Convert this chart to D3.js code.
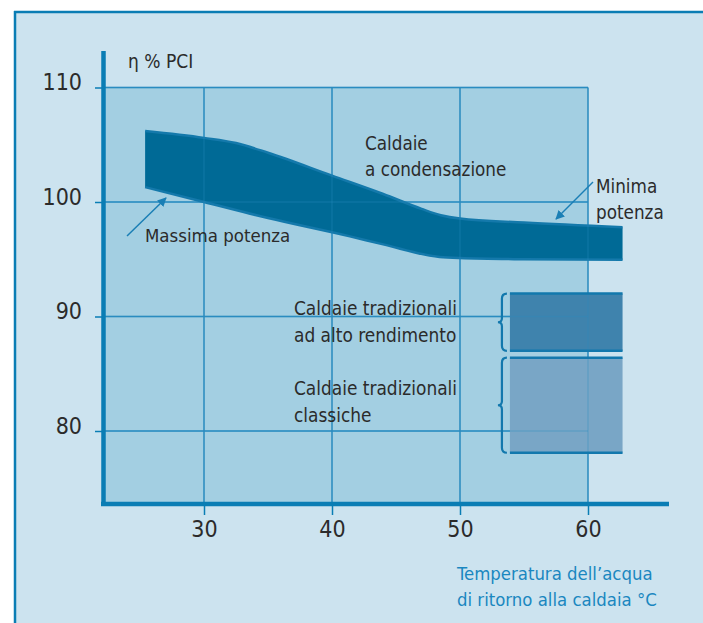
<!DOCTYPE html>
<html><head><meta charset="utf-8">
<script src="https://cdn.jsdelivr.net/npm/d3@7"></script>
<style>
html,body{margin:0;padding:0;background:#fff;}
svg{display:block;}
text{font-family:"DejaVu Sans Condensed","Liberation Sans Narrow","DejaVu Sans",sans-serif;}
</style></head>
<body>
<script>
// ---- data ----
const xTicks = [30, 40, 50, 60];
const yTicks = [80, 90, 100, 110];
// upper edge of the condensing band (Minima potenza)
const minimaT = [25.4, 30, 32.5, 35, 40, 44, 47, 48.5, 50, 55, 62.7];
const minimaV = [106.2, 105.6, 105.15, 104.3, 102.3, 100.7, 99.4, 98.85, 98.55, 98.2, 97.8];
// lower edge of the condensing band (Massima potenza)
const massimaT = [25.4, 30, 35, 41.4, 44, 48.4, 50, 55, 62.7];
const massimaV = [101.3, 100.0, 98.6, 97.0, 96.3, 95.2, 95.1, 95.0, 94.95];
// traditional boilers ranges
const tradNames = ["alto", "classiche"];
const tradT = [53.9, 62.7];
const tradLow = [87.0, 78.1];
const tradHigh = [92.0, 86.4];

const W = 703, H = 623;
const svg = d3.select("body").append("svg").attr("width", W).attr("height", H);

const x = d3.scaleLinear().domain([30, 60]).range([204, 588]);
const y = d3.scaleLinear().domain([80, 110]).range([431, 87.5]);

const blue = "#0a7db4";
const txt = "#2b2b2b";

// outer background
svg.append("rect").attr("x", 15).attr("y", 12).attr("width", W - 15).attr("height", H - 12).attr("fill", "#cce3ef");
svg.append("line").attr("x1", 15).attr("x2", 15).attr("y1", 11).attr("y2", H).attr("stroke", blue).attr("stroke-width", 2.5);
svg.append("line").attr("x1", 14).attr("x2", W).attr("y1", 12).attr("y2", 12).attr("stroke", blue).attr("stroke-width", 2.5);

const xMin = x.invert(103), yMin = y.invert(504);
// plot area
svg.append("rect").attr("x", x(xMin)).attr("y", y(110))
  .attr("width", x(60) - x(xMin)).attr("height", y(yMin) - y(110)).attr("fill", "#a3cfe2");

function grid(g, op) {
  g.selectAll(".gx").data(xTicks).join("line")
    .attr("x1", d => x(d)).attr("x2", d => x(d)).attr("y1", y(110)).attr("y2", y(yMin))
    .attr("stroke", "#2a8cc0").attr("stroke-width", 1.4).attr("opacity", op);
  g.selectAll(".gy").data(yTicks).join("line").attr("class","gy")
    .attr("x1", x(xMin)).attr("x2", x(60)).attr("y1", d => y(d)).attr("y2", d => y(d))
    .attr("stroke", "#2a8cc0").attr("stroke-width", 1.4).attr("opacity", op);
}
grid(svg.append("g"), 1);

// condensing band
const upper = minimaT.map((t, i) => [t, minimaV[i]]);
const lower = massimaT.map((t, i) => [t, massimaV[i]]);
const lineGen = d3.line().x(d => x(d[0])).y(d => y(d[1])).curve(d3.curveMonotoneX);
const bandPath = lineGen(upper) + "L" + lineGen(lower.slice().reverse()).slice(1) + "Z";
svg.append("path").attr("d", bandPath).attr("fill", "#006a96");
svg.append("path").attr("d", lineGen(upper)).attr("fill", "none").attr("stroke", "#1479ab").attr("stroke-width", 2.5);
svg.append("path").attr("d", lineGen(lower)).attr("fill", "none").attr("stroke", "#1479ab").attr("stroke-width", 2.5);

// traditional boxes
const fills = ["#3f83ad", "#79a6c6"];
tradNames.forEach((n, i) => {
  svg.append("rect").attr("x", x(tradT[0])).attr("y", y(tradHigh[i]))
    .attr("width", x(tradT[1]) - x(tradT[0])).attr("height", y(tradLow[i]) - y(tradHigh[i]))
    .attr("fill", fills[i]);
});
// faint grid through marks
grid(svg.append("g"), 0.3);
tradNames.forEach((n, i) => {
  [tradHigh[i], tradLow[i]].forEach(v => {
    svg.append("line").attr("x1", x(tradT[0])).attr("x2", x(tradT[1]))
      .attr("y1", y(v)).attr("y2", y(v)).attr("stroke", "#1278ad").attr("stroke-width", 2.5);
  });
  // curly brace
  const y1 = y(tradHigh[i]), y2 = y(tradLow[i]), ym = (y1 + y2) / 2, xr = x(tradT[0]) - 8;
  const p = `M${xr + 5},${y1} Q${xr},${y1} ${xr},${y1 + 5} L${xr},${ym - 4} Q${xr},${ym} ${xr - 4},${ym} Q${xr},${ym} ${xr},${ym + 4} L${xr},${y2 - 5} Q${xr},${y2} ${xr + 5},${y2}`;
  svg.append("path").attr("d", p).attr("fill", "none").attr("stroke", "#1278ad").attr("stroke-width", 2.2);
});

// axes
svg.append("line").attr("x1", 103.5).attr("x2", 103.5).attr("y1", 51).attr("y2", 506).attr("stroke", blue).attr("stroke-width", 4.5);
svg.append("line").attr("x1", 101).attr("x2", 669).attr("y1", 504).attr("y2", 504).attr("stroke", blue).attr("stroke-width", 4.5);

const yAxis = d3.axisLeft(y).tickValues(yTicks).tickSize(8).tickPadding(13);
const ya = svg.append("g").attr("transform", "translate(103,0)").call(yAxis);
ya.select(".domain").remove();
ya.selectAll(".tick line").attr("stroke", blue).attr("stroke-width", 1.5);
ya.selectAll(".tick text").attr("fill", txt).attr("font-size", 23).attr("dy", "0.1em")
  .style("font-family", "'DejaVu Sans Condensed','DejaVu Sans',sans-serif");

const xAxis = d3.axisBottom(x).tickValues(xTicks).tickSize(11).tickPadding(6);
const xa = svg.append("g").attr("transform", "translate(0,504)").call(xAxis);
xa.select(".domain").remove();
xa.selectAll(".tick line").attr("stroke", blue).attr("stroke-width", 1.5);
xa.selectAll(".tick text").attr("fill", txt).attr("font-size", 23)
  .style("font-family", "'DejaVu Sans Condensed','DejaVu Sans',sans-serif");

// arrows
svg.append("defs").append("marker").attr("id", "ah").attr("viewBox", "0 0 10 10")
  .attr("refX", 9).attr("refY", 5).attr("markerWidth", 9).attr("markerHeight", 9)
  .attr("markerUnits", "userSpaceOnUse").attr("orient", "auto")
  .append("path").attr("d", "M0,0 L10,5 L0,10 Z").attr("fill", "#1a7fb5");
svg.append("line").attr("x1", 127).attr("y1", 236).attr("x2", 166).attr("y2", 198)
  .attr("stroke", "#1a7fb5").attr("stroke-width", 1.5).attr("marker-end", "url(#ah)");
svg.append("line").attr("x1", 593).attr("y1", 182).attr("x2", 556).attr("y2", 219)
  .attr("stroke", "#1a7fb5").attr("stroke-width", 1.5).attr("marker-end", "url(#ah)");

// texts
function label(lines, x0, y0, dy, size, col) {
  const t = svg.append("text").attr("x", x0).attr("y", y0).attr("font-size", size).attr("fill", col || txt);
  lines.forEach((s, i) => t.append("tspan").attr("x", x0).attr("y", y0 + i * dy).text(s));
}
label(["η % PCI"], 128, 68, 0, 19);
label(["Caldaie", "a condensazione"], 365, 150, 26, 18.7);
label(["Minima", "potenza"], 596, 193, 26, 18.7);
label(["Massima potenza"], 145, 242, 0, 18.5);
label(["Caldaie tradizionali", "ad alto rendimento"], 294, 315, 27, 18.9);
label(["Caldaie tradizionali", "classiche"], 294, 395, 27, 18.9);
label(["Temperatura dell’acqua", "di ritorno alla caldaia °C"], 457, 580, 26, 18.4, "#1a87c0");
</script>
</body></html>
